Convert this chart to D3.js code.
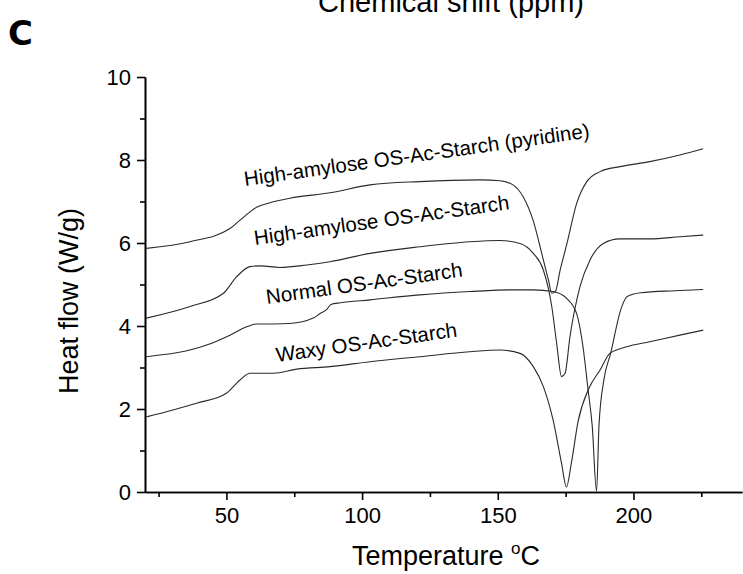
<!DOCTYPE html>
<html>
<head>
<meta charset="utf-8">
<script src="https://cdn.jsdelivr.net/npm/d3@7"></script>
<style>
  html, body { margin: 0; padding: 0; background: #fff; }
  svg { display: block; }
  text { font-family: "Liberation Sans", Arial, sans-serif; fill: #000; }
</style>
</head>
<body>
<svg id="chart" width="743" height="574"></svg>
<script>
// ---------------- data ----------------
const seriesNames = [
  "High-amylose OS-Ac-Starch (pyridine)",
  "High-amylose OS-Ac-Starch",
  "Normal OS-Ac-Starch",
  "Waxy OS-Ac-Starch"
];

const pyridineT = [20.5, 36.6, 51.3, 55, 58.7, 61.1, 66, 73.4, 88.2, 102.9, 121.3, 143.4, 150.8, 155.6, 159.3, 163, 166.2, 168.7, 169.9, 171.2, 173, 175.5, 179.1, 182.8, 187.7, 195, 206, 217.1, 225.7];
const pyridineV = [5.87, 6.03, 6.35, 6.55, 6.75, 6.86, 6.97, 7.08, 7.21, 7.40, 7.48, 7.52, 7.50, 7.40, 7.12, 6.55, 5.75, 5.10, 4.79, 4.83, 5.35, 5.99, 6.96, 7.48, 7.72, 7.84, 7.96, 8.12, 8.27];

const highAmyT = [20.5, 36.6, 48.9, 53.8, 58.7, 62.4, 69.7, 79.6, 88.2, 102.9, 121.3, 139.7, 150.8, 158.2, 163.1, 166.8, 169.9, 171.7, 173.5, 174.8, 176.6, 180.3, 184, 188.9, 195, 206, 217.1, 225.7];
const highAmyV = [4.19, 4.47, 4.79, 5.19, 5.43, 5.45, 5.41, 5.47, 5.55, 5.75, 5.91, 6.03, 6.06, 5.99, 5.75, 5.35, 4.47, 3.58, 2.78, 2.86, 3.74, 4.95, 5.59, 5.99, 6.10, 6.10, 6.15, 6.19];

const normalT = [20.5, 42.7, 51.3, 57.5, 61.1, 67.3, 73.4, 82, 84.5, 87, 88.5, 92, 102.9, 121.3, 139.7, 154.5, 163.1, 170.4, 175.3, 179, 181.4, 183.3, 184.8, 186.4, 187.3, 189.1, 191.6, 195.3, 197.7, 202.6, 215.1, 225.7];
const normalV = [3.26, 3.54, 3.78, 3.98, 4.05, 4.05, 4.06, 4.19, 4.30, 4.40, 4.52, 4.56, 4.63, 4.75, 4.83, 4.87, 4.87, 4.83, 4.67, 4.31, 3.50, 2.45, 1.60, 0.02, 1.60, 2.70, 3.34, 4.39, 4.71, 4.80, 4.85, 4.88];

const waxyT = [20.5, 39, 50, 55, 58.7, 67.3, 75.9, 88.2, 102.9, 121.3, 139.7, 150.8, 158.2, 163.1, 166.8, 170.4, 173.5, 175.3, 177.1, 179.6, 183.6, 187.7, 191.3, 197.5, 206, 217.1, 225.7];
const waxyV = [1.81, 2.14, 2.38, 2.70, 2.86, 2.86, 2.96, 3.02, 3.14, 3.26, 3.38, 3.42, 3.34, 3.02, 2.54, 1.73, 0.69, 0.12, 0.69, 1.70, 2.50, 2.94, 3.34, 3.50, 3.62, 3.78, 3.90];

const xMajorTicks = [50, 100, 150, 200];
const xMinorTicks = [25, 75, 125, 175, 225];
const yMajorTicks = [0, 2, 4, 6, 8, 10];
const yMinorTicks = [1, 3, 5, 7, 9];

// label anchor points in data units (temperature, heat flow)
const labelT = [20 + (245 - 145) / 2.714, 20 + (255 - 145) / 2.714, 20 + (267 - 145) / 2.714, 20 + (277 - 145) / 2.714];
const labelV = [(492 - 186) / 41.5, (492 - 245) / 41.5, (492 - 304) / 41.5, (492 - 362) / 41.5];

// ---------------- drawing ----------------
const svg = d3.select("#chart");
svg.append("rect").attr("width", 743).attr("height", 574).attr("fill", "#fff");

const x = d3.scaleLinear().domain([20, 240]).range([145, 742]);
const y = d3.scaleLinear().domain([0, 10]).range([492, 77]);

// partial header from the panel above
svg.append("text")
  .attr("x", 451).attr("y", 12)
  .attr("text-anchor", "middle")
  .style("font-size", "29px")
  .text("Chemical shift (ppm)");

// panel letter
svg.append("text")
  .attr("x", 8).attr("y", 45)
  .style("font-family", "'DejaVu Sans', sans-serif")
  .style("font-weight", "bold")
  .style("font-size", "34px")
  .text("C");

// axes
function styleAxis(g) {
  g.selectAll("path, line").attr("stroke", "#000").attr("stroke-width", 1.6);
}

const xAxisMinor = svg.append("g").attr("transform", `translate(0,${y(0)})`)
  .call(d3.axisBottom(x).tickValues(xMinorTicks).tickSize(5).tickSizeOuter(0).tickFormat(""));
styleAxis(xAxisMinor);

const xAxis = svg.append("g").attr("transform", `translate(0,${y(0)})`)
  .call(d3.axisBottom(x).tickValues(xMajorTicks).tickSize(8).tickSizeOuter(0).tickPadding(7));
styleAxis(xAxis);
xAxis.selectAll("text").style("font-size", "22px").attr("fill", "#000").style("font-family", "'Liberation Sans', Arial, sans-serif");

const yAxisMinor = svg.append("g").attr("transform", `translate(${x(20)},0)`)
  .call(d3.axisLeft(y).tickValues(yMinorTicks).tickSize(5).tickSizeOuter(0).tickFormat(""));
styleAxis(yAxisMinor);

const yAxis = svg.append("g").attr("transform", `translate(${x(20)},0)`)
  .call(d3.axisLeft(y).tickValues(yMajorTicks).tickSize(8).tickSizeOuter(0).tickPadding(6));
styleAxis(yAxis);
yAxis.selectAll("text").style("font-size", "22px").attr("fill", "#000").style("font-family", "'Liberation Sans', Arial, sans-serif");

// axis titles
const xt = svg.append("text")
  .attr("x", 446).attr("y", 565)
  .attr("text-anchor", "middle")
  .style("font-size", "27px");
xt.append("tspan").text("Temperature ");
xt.append("tspan").attr("dy", -11).style("font-size", "17px").text("o");
xt.append("tspan").attr("dy", 11).text("C");

svg.append("text")
  .attr("transform", "translate(78,301) rotate(-90)")
  .attr("text-anchor", "middle")
  .style("font-size", "27px")
  .text("Heat flow (W/g)");

// curves
const seriesData = [
  d3.zip(pyridineT, pyridineV),
  d3.zip(highAmyT, highAmyV),
  d3.zip(normalT, normalV),
  d3.zip(waxyT, waxyV)
];

const line = d3.line()
  .x(d => x(d[0]))
  .y(d => y(d[1]))
  .curve(d3.curveMonotoneX);

svg.append("g").selectAll("path")
  .data(seriesData)
  .join("path")
  .attr("d", line)
  .attr("fill", "none")
  .attr("stroke", "#2a2a2a")
  .attr("stroke-width", 1.1);

// curve labels
svg.append("g").selectAll("text")
  .data(seriesNames)
  .join("text")
  .attr("transform", (d, i) => `translate(${x(labelT[i])},${y(labelV[i])}) rotate(-8)`)
  .style("font-size", "20.5px")
  .text(d => d);
</script>
</body>
</html>
